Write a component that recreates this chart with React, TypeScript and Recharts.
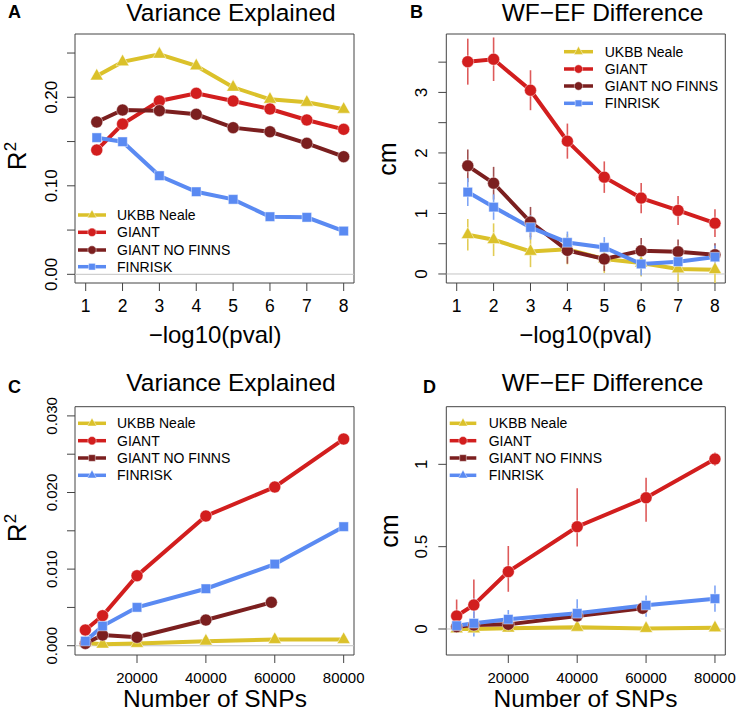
import React from "react";
import { LineChart, Line, XAxis, YAxis, ReferenceLine, ReferenceArea, ErrorBar } from "recharts";

const FONT = "'Liberation Sans', Arial, Helvetica, sans-serif";

const YEL = "#DBC12A";
const RED = "#D21E1E";
const DRED = "#7B1F1F";
const BLUE = "#5A8AF2";
const YEL_E = "#E2CC55";
const RED_E = "#DE5A5A";
const DRED_E = "#A05050";
const BLUE_E = "#7FA5F5";

const seriesNames = ["UKBB Neale", "GIANT", "GIANT NO FINNS", "FINRISK"];

// ---------- Panel A : Variance explained vs -log10(pval)
const xA = [1.3, 2, 3, 4, 5, 6, 7, 8];
const aUkbb = [0.224, 0.24, 0.2486, 0.2354, 0.2113, 0.1977, 0.1943, 0.1864];
const aGiant = [0.1404, 0.1698, 0.1958, 0.2045, 0.1958, 0.1868, 0.1744, 0.1638];
const aNoFinns = [0.1721, 0.1856, 0.1849, 0.1808, 0.1657, 0.1611, 0.148, 0.1329];
const aFinrisk = [0.1544, 0.1498, 0.1114, 0.0933, 0.0847, 0.0651, 0.0644, 0.0489];
const pvalTicks = [1, 2, 3, 4, 5, 6, 7, 8];
const aYTicks = [0, 0.05, 0.1, 0.15, 0.2, 0.25];
const aYLabels = ["0.00", "", "0.10", "", "0.20", ""];

// ---------- Panel B : WF-EF difference vs -log10(pval)
const xB = [1.3, 2, 3, 4, 5, 6, 7, 8];
const bUkbb = [0.648, 0.566, 0.373, 0.41, 0.247, 0.18, 0.082, 0.07];
const bUkbbErr = [0.26, 0.27, 0.26, 0.25, 0.23, 0.22, 0.22, 0.22];
const bGiant = [3.508, 3.548, 3.036, 2.195, 1.6, 1.254, 1.05, 0.84];
const bGiantErr = [0.38, 0.36, 0.33, 0.29, 0.26, 0.25, 0.24, 0.23];
const bNoFinns = [1.787, 1.5, 0.858, 0.39, 0.247, 0.384, 0.368, 0.318];
const bNoFinnsErr = [0.27, 0.27, 0.25, 0.22, 0.2, 0.21, 0.2, 0.19];
const bFinrisk = [1.353, 1.105, 0.769, 0.521, 0.439, 0.165, 0.203, 0.28];
const bFinriskErr = [0.23, 0.21, 0.2, 0.18, 0.17, 0.19, 0.19, 0.19];
const bYTicks = [0, 0.5, 1, 1.5, 2, 2.5, 3, 3.5];
const bYLabels = ["0", "", "1", "", "2", "", "3", ""];

// ---------- Panel C : Variance explained vs number of SNPs
const xC = [5000, 10000, 20000, 40000, 60000, 80000];
const xCNoFinns = [5000, 10000, 20000, 40000, 59000];
const cUkbb = [0.0004, 0.0002, 0.0003, 0.0006, 0.0008, 0.0008];
const cGiant = [0.00205, 0.00392, 0.00914, 0.01693, 0.02072, 0.02698];
const cNoFinns = [0.0003, 0.0014, 0.0011, 0.00335, 0.00566];
const cFinrisk = [0.0006, 0.00257, 0.00501, 0.00744, 0.01066, 0.01554];
const snpTicks = [20000, 40000, 60000, 80000];
const cYTicks = [0, 0.005, 0.01, 0.015, 0.02, 0.025, 0.03];
const cYLabels = ["0.000", "", "0.010", "", "0.020", "", "0.030"];

// ---------- Panel D : WF-EF difference vs number of SNPs
const dUkbb = [0.0, 0.0, 0.005, 0.01, 0.003, 0.007];
const dUkbbLo = [0.02, 0.02, 0.02, 0.02, 0.02, 0.02];
const dUkbbHi = [0.02, 0.02, 0.02, 0.02, 0.02, 0.02];
const dGiant = [0.079, 0.146, 0.348, 0.621, 0.797, 1.032];
const dGiantLo = [0.08, 0.1, 0.122, 0.12, 0.146, 0.04];
const dGiantHi = [0.1, 0.155, 0.156, 0.233, 0.122, 0.04];
const dNoFinns = [0.014, 0.024, 0.028, 0.079, 0.126];
const dNoFinnsLo = [0.03, 0.03, 0.03, 0.03, 0.03];
const dNoFinnsHi = [0.03, 0.03, 0.03, 0.03, 0.03];
const dFinrisk = [0.02, 0.035, 0.059, 0.095, 0.144, 0.184];
const dFinriskLo = [0.03, 0.08, 0.06, 0.08, 0.07, 0.08];
const dFinriskHi = [0.03, 0.15, 0.056, 0.085, 0.06, 0.08];
const dYTicks = [0, 0.5, 1];
const dYLabels = ["0", "0.5", "1"];

type Pt = { x: number; y: number; e?: [number, number] };
const mk = (xs: number[], ys: number[], lo?: number[], hi?: number[]): Pt[] =>
  xs.map((x, i) => ({ x, y: ys[i], e: lo && hi ? [lo[i], hi[i]] as [number, number] : undefined }));

type Shape = "tri" | "circle" | "square";

function Marker({ cx, cy, shape, color, scale = 1 }: { cx: number; cy: number; shape: Shape; color: string; scale?: number }) {
  const ring = "rgba(255,255,255,0.45)";
  if (shape === "circle") {
    return <circle cx={cx} cy={cy} r={6 * scale} fill={color} stroke={ring} strokeWidth={1} />;
  }
  if (shape === "square") {
    const s = 9.5 * scale;
    return <rect x={cx - s / 2} y={cy - s / 2} width={s} height={s} fill={color} stroke={ring} strokeWidth={1} />;
  }
  const w = 13 * scale;
  const h = 11.5 * scale;
  return (
    <polygon
      points={`${cx - w / 2},${cy + h / 3} ${cx + w / 2},${cy + h / 3} ${cx},${cy - (2 * h) / 3}`}
      fill={color}
      stroke={ring}
      strokeWidth={1}
    />
  );
}

type Series = { data: Pt[]; color: string; errColor: string; shape: Shape; err: boolean };

type PanelProps = {
  left: number;
  top: number;
  w: number;
  h: number;
  margin: { top: number; right: number; bottom: number; left: number };
  yAxisW: number;
  xDomain: [number, number];
  xTicks: number[];
  xLabelY: number;
  xFont: number;
  yDomain: [number, number];
  yTicks: number[];
  yLabels: string[];
  yLabelX: number;
  yFont: number;
  series: Series[];
};

function Panel(p: PanelProps) {
  const xTick = (t: any) => (
    <text x={t.x} y={p.xLabelY} textAnchor="middle" fontSize={p.xFont} fontFamily={FONT} fill="#000">
      {String(t.payload.value)}
    </text>
  );
  const yTick = (t: any) => {
    const v = t.payload.value;
    const idx = p.yTicks.findIndex((k) => Math.abs(k - v) < 1e-9);
    const lab = idx >= 0 ? p.yLabels[idx] : "";
    if (!lab) return <g />;
    return (
      <text
        x={p.yLabelX}
        y={t.y}
        transform={`rotate(-90 ${p.yLabelX} ${t.y})`}
        textAnchor="middle"
        fontSize={p.yFont}
        fontFamily={FONT}
        fill="#000"
      >
        {lab}
      </text>
    );
  };
  return (
    <div style={{ position: "absolute", left: p.left, top: p.top }}>
      <LineChart width={p.w} height={p.h} margin={p.margin}>
        <XAxis
          type="number"
          dataKey="x"
          domain={p.xDomain}
          ticks={p.xTicks}
          interval={0}
          allowDataOverflow
          axisLine={false}
          tickLine={{ stroke: "#444" }}
          tickSize={8}
          tick={xTick}
          height={40}
        />
        <YAxis
          type="number"
          dataKey="y"
          domain={p.yDomain}
          ticks={p.yTicks}
          interval={0}
          allowDataOverflow
          axisLine={false}
          tickLine={{ stroke: "#444" }}
          tickSize={8}
          tick={yTick}
          width={p.yAxisW}
        />
        <ReferenceLine y={0} stroke="#c4c4c4" strokeWidth={1} />
        <ReferenceArea
          x1={p.xDomain[0]}
          x2={p.xDomain[1]}
          y1={p.yDomain[0]}
          y2={p.yDomain[1]}
          fill="none"
          fillOpacity={0}
          stroke="#444"
          strokeWidth={1}
        />
        {p.series.map((s, i) => (
          <Line
            key={i}
            data={s.data}
            dataKey="y"
            stroke={s.color}
            strokeWidth={4}
            isAnimationActive={false}
            activeDot={false}
            dot={(d: any) => (
              <g key={`d${i}-${d.index}`}>
                <Marker cx={d.cx} cy={d.cy} shape={s.shape} color={s.color} />
              </g>
            )}
          >
            {s.err ? (
              <ErrorBar dataKey="e" direction="y" width={0} stroke={s.errColor} strokeWidth={1.6} />
            ) : null}
          </Line>
        ))}
      </LineChart>
    </div>
  );
}

function LegendBox({ x0, x1, tx, ys, shapes }: { x0: number; x1: number; tx: number; ys: number[]; shapes: Shape[] }) {
  const colors = [YEL, RED, DRED, BLUE];
  return (
    <g>
      {seriesNames.map((n, i) => (
        <g key={n}>
          <line x1={x0} x2={x1} y1={ys[i]} y2={ys[i]} stroke={colors[i]} strokeWidth={3.5} />
          <Marker cx={(x0 + x1) / 2} cy={ys[i]} shape={shapes[i]} color={colors[i]} scale={0.7} />
          <text x={tx} y={ys[i] + 5} fontSize={14} fontFamily={FONT} fill="#000">
            {n}
          </text>
        </g>
      ))}
    </g>
  );
}

export default function App() {
  const sA: Series[] = [
    { data: mk(xA, aUkbb), color: YEL, errColor: YEL_E, shape: "tri", err: false },
    { data: mk(xA, aGiant), color: RED, errColor: RED_E, shape: "circle", err: false },
    { data: mk(xA, aNoFinns), color: DRED, errColor: DRED_E, shape: "circle", err: false },
    { data: mk(xA, aFinrisk), color: BLUE, errColor: BLUE_E, shape: "square", err: false },
  ];
  const sB: Series[] = [
    { data: mk(xB, bUkbb, bUkbbErr, bUkbbErr), color: YEL, errColor: YEL_E, shape: "tri", err: true },
    { data: mk(xB, bGiant, bGiantErr, bGiantErr), color: RED, errColor: RED_E, shape: "circle", err: true },
    { data: mk(xB, bNoFinns, bNoFinnsErr, bNoFinnsErr), color: DRED, errColor: DRED_E, shape: "circle", err: true },
    { data: mk(xB, bFinrisk, bFinriskErr, bFinriskErr), color: BLUE, errColor: BLUE_E, shape: "square", err: true },
  ];
  const sC: Series[] = [
    { data: mk(xC, cUkbb), color: YEL, errColor: YEL_E, shape: "tri", err: false },
    { data: mk(xC, cGiant), color: RED, errColor: RED_E, shape: "circle", err: false },
    { data: mk(xCNoFinns, cNoFinns), color: DRED, errColor: DRED_E, shape: "circle", err: false },
    { data: mk(xC, cFinrisk), color: BLUE, errColor: BLUE_E, shape: "square", err: false },
  ];
  const sD: Series[] = [
    { data: mk(xC, dUkbb, dUkbbLo, dUkbbHi), color: YEL, errColor: YEL_E, shape: "tri", err: true },
    { data: mk(xC, dGiant, dGiantLo, dGiantHi), color: RED, errColor: RED_E, shape: "circle", err: true },
    { data: mk(xCNoFinns, dNoFinns, dNoFinnsLo, dNoFinnsHi), color: DRED, errColor: DRED_E, shape: "circle", err: true },
    { data: mk(xC, dFinrisk, dFinriskLo, dFinriskHi), color: BLUE, errColor: BLUE_E, shape: "square", err: true },
  ];

  const titleStyle = { fontSize: 24.5, fontFamily: FONT, fill: "#000" } as const;
  const letterStyle = { fontSize: 18, fontFamily: FONT, fontWeight: 700, fill: "#000" } as const;
  const axStyle = { fontFamily: FONT, fill: "#000" } as const;

  return (
    <div style={{ position: "absolute", left: 0, top: 0, width: 736, height: 714, background: "#fff", overflow: "hidden" }}>
      <Panel
        left={0}
        top={0}
        w={368}
        h={357}
        margin={{ top: 34, right: 14, bottom: 34, left: 0 }}
        yAxisW={75}
        xDomain={[0.71, 8.28]}
        xTicks={pvalTicks}
        xLabelY={311.7}
        xFont={17.5}
        yDomain={[-0.0098, 0.2715]}
        yTicks={aYTicks}
        yLabels={aYLabels}
        yLabelX={56.7}
        yFont={17}
        series={sA}
      />
      <Panel
        left={368}
        top={0}
        w={368}
        h={357}
        margin={{ top: 34, right: 10.7, bottom: 34, left: 0 }}
        yAxisW={78.3}
        xDomain={[0.718, 8.28]}
        xTicks={pvalTicks}
        xLabelY={311.7}
        xFont={17.5}
        yDomain={[-0.149, 3.965]}
        yTicks={bYTicks}
        yLabels={bYLabels}
        yLabelX={59}
        yFont={17}
        series={sB}
      />
      <Panel
        left={0}
        top={357}
        w={368}
        h={357}
        margin={{ top: 49.7, right: 14, bottom: 19, left: 0 }}
        yAxisW={75}
        xDomain={[2000, 83000]}
        xTicks={snpTicks}
        xLabelY={325.7}
        xFont={15}
        yDomain={[-0.00121, 0.0312]}
        yTicks={cYTicks}
        yLabels={cYLabels}
        yLabelX={56.7}
        yFont={15}
        series={sC}
      />
      <Panel
        left={368}
        top={357}
        w={368}
        h={357}
        margin={{ top: 49.7, right: 10.7, bottom: 19, left: 0 }}
        yAxisW={78.3}
        xDomain={[2000, 83000]}
        xTicks={snpTicks}
        xLabelY={326.3}
        xFont={15}
        yDomain={[-0.158, 1.35]}
        yTicks={dYTicks}
        yLabels={dYLabels}
        yLabelX={59}
        yFont={17}
        series={sD}
      />
      <svg width={736} height={714} style={{ position: "absolute", left: 0, top: 0, pointerEvents: "none" }}>
        {/* panel letters */}
        <text x={8} y={18} {...letterStyle}>A</text>
        <text x={410} y={18} {...letterStyle}>B</text>
        <text x={8} y={393} {...letterStyle}>C</text>
        <text x={423} y={393} {...letterStyle}>D</text>
        {/* titles */}
        <text x={231} y={21} textAnchor="middle" {...titleStyle}>Variance Explained</text>
        <text x={602.5} y={21} textAnchor="middle" {...titleStyle}>WF−EF Difference</text>
        <text x={231} y={391} textAnchor="middle" {...titleStyle}>Variance Explained</text>
        <text x={602.5} y={391} textAnchor="middle" {...titleStyle}>WF−EF Difference</text>
        {/* x axis titles */}
        <text x={215} y={343} textAnchor="middle" fontSize={24} {...axStyle}>−log10(pval)</text>
        <text x={585.5} y={343} textAnchor="middle" fontSize={24} {...axStyle}>−log10(pval)</text>
        <text x={215} y={707} textAnchor="middle" fontSize={24.5} {...axStyle}>Number of SNPs</text>
        <text x={585.5} y={707} textAnchor="middle" fontSize={24.5} {...axStyle}>Number of SNPs</text>
        {/* y axis titles */}
        <text x={26} y={156} transform="rotate(-90 26 156)" textAnchor="middle" fontSize={26} {...axStyle}>
          R<tspan dy={-10} fontSize={17}>2</tspan>
        </text>
        <text x={396} y={159} transform="rotate(-90 396 159)" textAnchor="middle" fontSize={25} {...axStyle}>cm</text>
        <text x={26} y={528} transform="rotate(-90 26 528)" textAnchor="middle" fontSize={26} {...axStyle}>
          R<tspan dy={-10} fontSize={17}>2</tspan>
        </text>
        <text x={398} y={531} transform="rotate(-90 398 531)" textAnchor="middle" fontSize={25} {...axStyle}>cm</text>
        {/* legends */}
        <LegendBox x0={78} x1={106} tx={117} ys={[215, 232.3, 250, 266.7]} shapes={["tri", "circle", "circle", "square"]} />
        <LegendBox x0={564} x1={593} tx={604.7} ys={[51.7, 69, 86, 103.3]} shapes={["tri", "circle", "circle", "square"]} />
        <LegendBox x0={78} x1={106} tx={117} ys={[423.3, 440.7, 458, 475.3]} shapes={["tri", "circle", "square", "tri"]} />
        <LegendBox x0={449.7} x1={476.3} tx={488.7} ys={[423.3, 440.7, 458, 475.3]} shapes={["tri", "circle", "square", "tri"]} />
      </svg>
    </div>
  );
}
